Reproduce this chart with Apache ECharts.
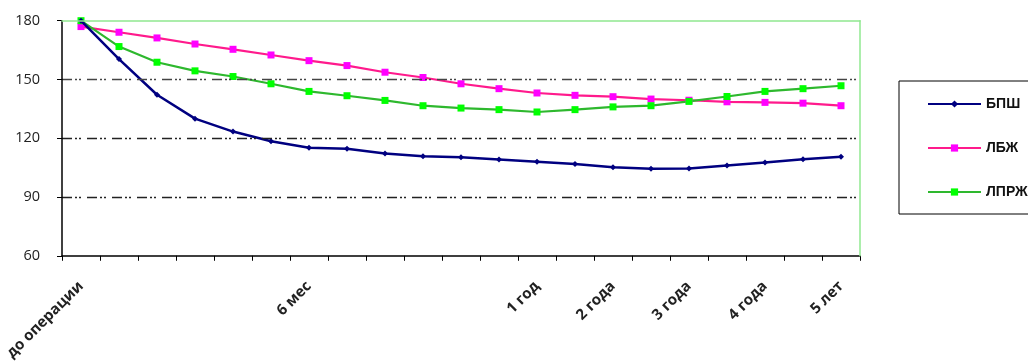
<!DOCTYPE html>
<html>
<head>
<meta charset="utf-8">
<script src="https://cdn.jsdelivr.net/npm/echarts@6/dist/echarts.min.js"></script>
<style>
  html, body { margin: 0; padding: 0; background: #fff; }
  #chart { width: 1028px; height: 363px; }
</style>
</head>
<body>
<div id="chart"></div>
<script>
// Follow-up time points (only some are labelled on the axis)
const categories = [
  'до операции', '', '', '', '', '',
  '6 мес', '', '', '', '', '',
  '1 год', '', '2 года', '', '3 года', '', '4 года', '', '5 лет'
];

const seriesNames = ['БПШ', 'ЛБЖ', 'ЛПРЖ'];

const bpsh = [180, 160.4, 142.2, 130, 123.4, 118.5, 115.1, 114.6, 112.2, 110.8, 110.3,
              109.2, 108.0, 106.8, 105.2, 104.4, 104.6, 106.1, 107.6, 109.3, 110.5];
const lbzh = [177, 174.1, 171.2, 168.1, 165.4, 162.5, 159.6, 157.1, 153.7, 151.0, 147.8,
              145.3, 143.1, 141.9, 141.2, 140.0, 139.4, 138.6, 138.3, 137.9, 136.6];
const lprzh = [180, 166.8, 158.8, 154.4, 151.5, 147.8, 143.9, 141.7, 139.3, 136.6, 135.4,
               134.6, 133.4, 134.6, 136.0, 136.6, 138.8, 141.3, 143.9, 145.3, 146.8];

const yTicks = { min: 60, max: 180, step: 30 };

const chart = echarts.init(document.getElementById('chart'), null, { renderer: 'canvas' });

// dash-dot-dot pattern of the horizontal grid lines
const gridDash = [10, 3, 2, 2, 2, 6];

chart.setOption({
  animation: false,
  backgroundColor: '#ffffff',
  grid: { left: 62, right: 168, top: 20.7, bottom: 106.3, containLabel: false },
  legend: {
    orient: 'vertical',
    left: 899,
    top: 81,
    padding: [16, 60, 15, 28],
    itemWidth: 53,
    itemHeight: 9,
    itemGap: 30,
    borderColor: '#000',
    borderWidth: 1,
    textStyle: { fontFamily: 'Liberation Sans', fontWeight: 'bold', fontSize: 14, color: '#111' },
    data: seriesNames
  },
  xAxis: [{
    type: 'category',
    data: categories,
    boundaryGap: true,
    z: 5,
    axisLine: { lineStyle: { color: '#000', width: 1.5 } },
    axisTick: { show: true, interval: 0, length: 5, lineStyle: { color: '#000', width: 1 } },
    axisLabel: {
      interval: 0, rotate: 45, margin: 28,
      fontFamily: 'Open Sans', fontWeight: 'bold', fontSize: 15, color: '#222'
    },
    splitLine: { show: false }
  }, {
    type: 'category',
    data: categories,
    position: 'top',
    z: 6,
    axisLine: { lineStyle: { color: '#90e890', width: 1.5 } },
    axisTick: { show: false },
    axisLabel: { show: false },
    splitLine: { show: false }
  }],
  yAxis: [{
    type: 'value',
    min: yTicks.min,
    max: yTicks.max,
    interval: yTicks.step,
    z: 5,
    axisLine: { show: true, lineStyle: { color: '#000', width: 1.5 } },
    axisTick: { show: true, length: 5, lineStyle: { color: '#000' } },
    axisLabel: { margin: 22, fontFamily: 'Open Sans', fontSize: 14.5, color: '#222' },
    splitLine: {
      show: true,
      lineStyle: {
        color: ['rgba(0,0,0,0)', '#222', '#222', '#444', 'rgba(0,0,0,0)'],
        width: 1.3,
        type: gridDash
      }
    }
  }, {
    type: 'value',
    position: 'right',
    min: yTicks.min,
    max: yTicks.max,
    interval: yTicks.step,
    z: 6,
    axisLine: { show: true, lineStyle: { color: '#90e890', width: 1.5 } },
    axisTick: { show: false },
    axisLabel: { show: false },
    splitLine: { show: false }
  }],
  series: [{
    name: seriesNames[0],
    type: 'line',
    data: bpsh,
    z: 4,
    symbol: 'diamond',
    symbolSize: 6,
    lineStyle: { color: '#000080', width: 2.5 },
    itemStyle: { color: '#000080' }
  }, {
    name: seriesNames[1],
    type: 'line',
    data: lbzh,
    z: 3,
    symbol: 'rect',
    symbolSize: 7,
    lineStyle: { color: '#ff1a8c', width: 2.2 },
    itemStyle: { color: '#ff00ff' }
  }, {
    name: seriesNames[2],
    type: 'line',
    data: lprzh,
    z: 3,
    symbol: 'rect',
    symbolSize: 7,
    lineStyle: { color: '#2eb82e', width: 2.2 },
    itemStyle: { color: '#00ff00' }
  }]
});
</script>
</body>
</html>
